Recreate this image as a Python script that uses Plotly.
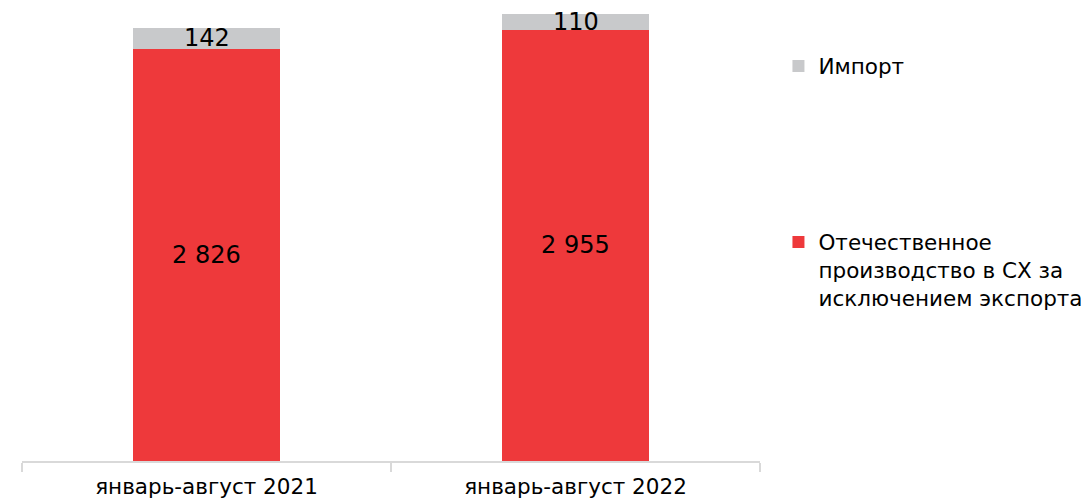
import plotly.graph_objects as go

categories = ["январь-август 2021", "январь-август 2022"]
domestic = [2826, 2955]
imports = [142, 110]
domestic_labels = ["2 826", "2 955"]
import_labels = ["142", "110"]
name_import = "Импорт"
name_domestic = "Отечественное<br>производство в СХ за<br>исключением экспорта"

RED = "#EE393B"
GREY = "#C8C9CB"
FONT = "DejaVu Sans"

fig = go.Figure()
fig.add_trace(go.Bar(x=categories, y=domestic, name=name_domestic, marker=dict(color=RED, line=dict(width=0)),
                     legend="legend2", hoverinfo="skip"))
fig.add_trace(go.Bar(x=categories, y=imports, name=name_import, marker=dict(color=GREY, line=dict(width=0)),
                     legend="legend", hoverinfo="skip"))

for c, d, i, dl, il in zip(categories, domestic, imports, domestic_labels, import_labels):
    fig.add_annotation(x=c, y=d / 2, text=dl, showarrow=False, xref="x", yref="y",
                       font=dict(family=FONT, size=24, color="#000000"))
    fig.add_annotation(x=c, y=d + i / 2, text=il, showarrow=False, xref="x", yref="y",
                       font=dict(family=FONT, size=24, color="#000000"))

fig.update_layout(
    barmode="stack",
    bargap=0.6,
    width=1081, height=493,
    margin=dict(l=14, r=329, t=0, b=40, autoexpand=False),
    paper_bgcolor="white", plot_bgcolor="white",
    font=dict(family=FONT, color="#000000"),
    xaxis=dict(showline=True, linecolor="#D9D9D9", linewidth=1.5, ticks="outside", tickson="boundaries",
               ticklen=9, tickcolor="#D9D9D9", tickwidth=1.5, tickfont=dict(family=FONT, size=21.5, color="#000"),
               ticklabelstandoff=5, showgrid=False, range=[-0.5, 1.5]),
    yaxis=dict(visible=False, range=[0, 3105], showgrid=False, zeroline=False),
    legend=dict(x=1.025, y=0.872, xanchor="left", yanchor="middle", font=dict(family=FONT, size=21.5, color="#000"),
                bgcolor="rgba(0,0,0,0)", itemwidth=30, tracegroupgap=0, valign="top"),
    legend2=dict(x=1.025, y=0.4216, xanchor="left", yanchor="middle", font=dict(family=FONT, size=21.5, color="#000"),
                 bgcolor="rgba(0,0,0,0)", itemwidth=30, tracegroupgap=0, valign="top"),
    showlegend=True,
)

fig.write_html("out.html")
